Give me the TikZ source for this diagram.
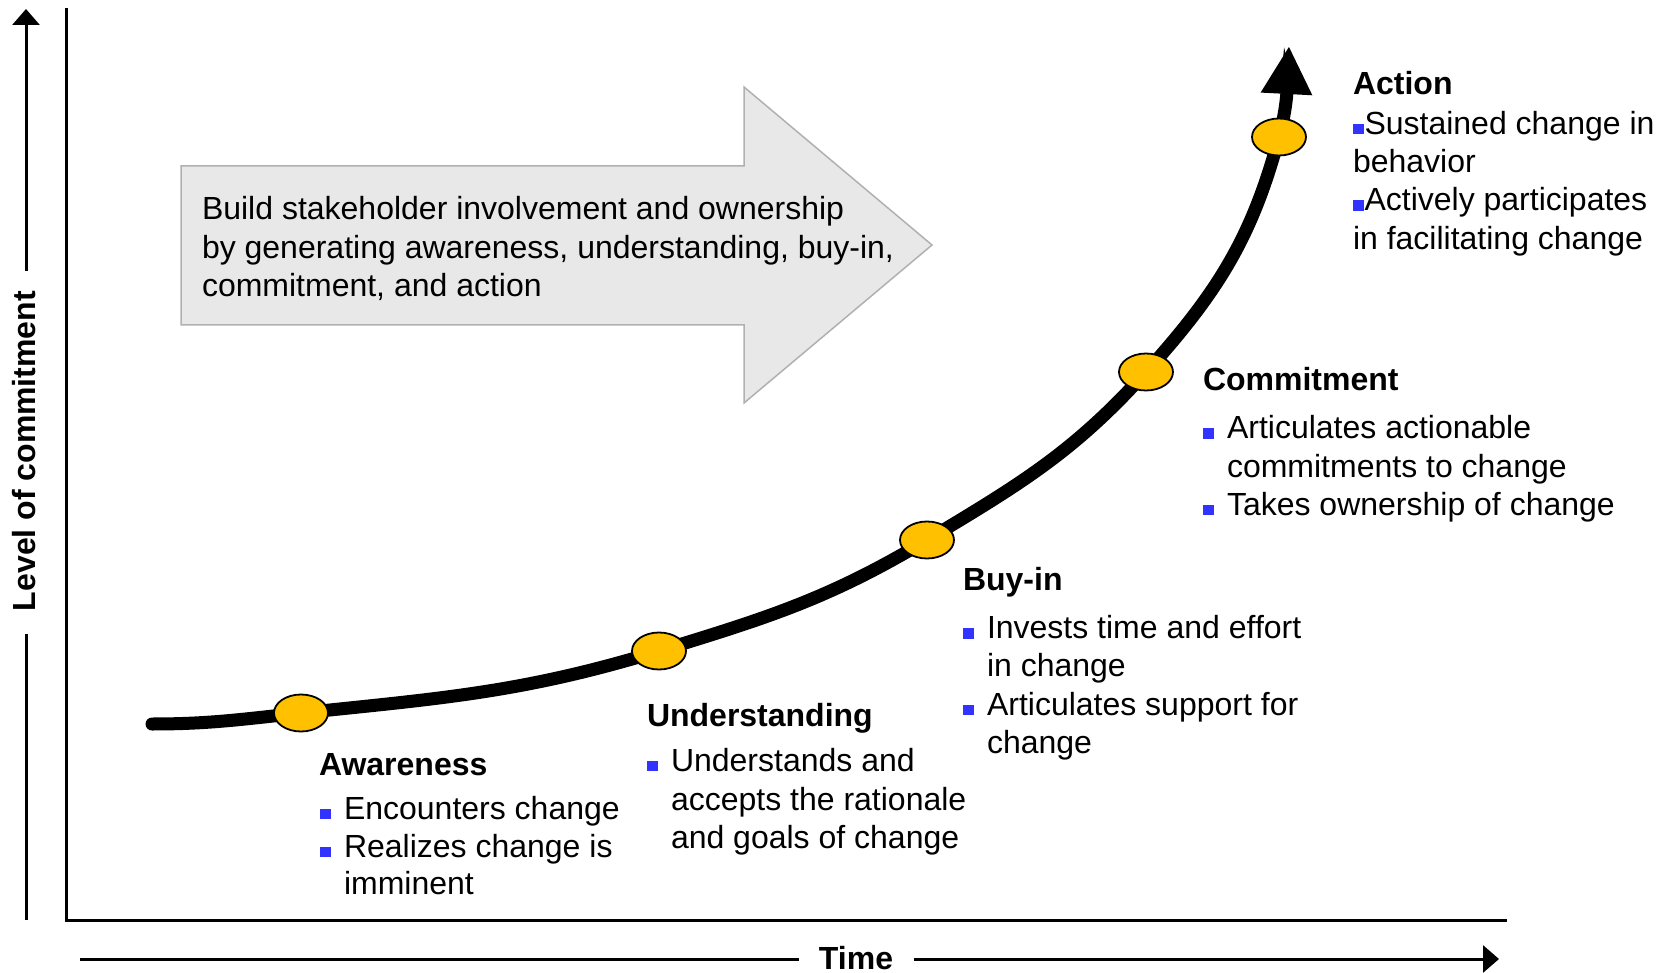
\documentclass[tikz,border=0pt]{standalone}
\usepackage{fontspec}
\setmainfont{Liberation Sans}
\usetikzlibrary{arrows.meta,shapes.geometric}

\definecolor{marker}{HTML}{FFC000}
\definecolor{bulletblue}{HTML}{3333FF}
\definecolor{bannerfill}{HTML}{E8E8E8}
\definecolor{bannerline}{HTML}{B0B0B0}

% small blue square bullet sitting on the baseline
\newcommand{\sqbul}{\textcolor{bulletblue}{\rule{5.25pt}{5.25pt}}}
% bullet followed by a fixed gap before the item text
\newcommand{\itemhang}[1]{\makebox[12pt][l]{\sqbul}#1}
\newcommand{\itemtight}[1]{\makebox[5.75pt][l]{\sqbul}#1}

\begin{document}
\begin{tikzpicture}[x=0.5pt,y=-0.5pt,
  txt/.style={anchor=base west, inner sep=0pt, outer sep=0pt,
              font=\fontsize{16}{19}\selectfont},
  ttl/.style={txt, font=\fontsize{16}{19}\selectfont\bfseries},
  axisline/.style={line width=1.5pt},
  guide/.style={line width=1.5pt, -{Triangle[length=8pt,width=13.5pt]}},
  stage/.style={ellipse, draw=black, line width=0.9pt, fill=marker,
                minimum width=27pt, minimum height=18.5pt, inner sep=0pt},
  trend/.style={line width=6.5pt, line cap=round,
                -{Triangle[length=24pt,width=24pt]}},
  banner/.style={fill=bannerfill, draw=bannerline, line width=0.75pt}
]
\useasboundingbox (0,0) rectangle (1666,973);

% ---- axes -------------------------------------------------------------
\coordinate (ytop)   at (66,8);
\coordinate (origin) at (66,920);
\coordinate (xend)   at (1507,920);
\draw[axisline] (ytop) -- (origin) -- (xend);

% ---- vertical guide with its label --------------------------------------
\node[rotate=90, inner sep=0pt, font=\fontsize{16}{19}\selectfont\bfseries]
  (level) at (24,451) {Level of commitment};
\coordinate (lvlfoot) at (26,920);
\coordinate (lvllow)  at (26,634);
\coordinate (lvlhigh) at (26,271);
\coordinate (lvltip)  at (26,9);
\draw[axisline] (lvlfoot) -- (lvllow);
\draw[guide] (lvlhigh) -- (lvltip);

% ---- horizontal guide with its label ------------------------------------
\node[inner sep=0pt, font=\fontsize{16}{19}\selectfont\bfseries]
  (time) at (856,958) {Time};
\coordinate (tstart) at (80,959);
\coordinate (tleft)  at (799,959);
\coordinate (tright) at (914,959);
\coordinate (tend)   at (1499,959);
\draw[axisline] (tstart) -- (tleft);
\draw[guide] (tright) -- (tend);

% ---- banner arrow -----------------------------------------------------
\draw[banner] (181,166) -- (744,166) -- (744,87) -- (932,245)
  -- (744,403) -- (744,325) -- (181,325) -- cycle;
\node[txt] (ban1) at (202,220) {Build stakeholder involvement and ownership};
\node[txt] (ban2) at (202,258.5) {by generating awareness, understanding, buy-in,};
\node[txt] (ban3) at (202,297) {commitment, and action};

% ---- commitment curve -------------------------------------------------
\coordinate (c0)  at (152,724);
\coordinate (p1)  at (301,713);
\coordinate (p2)  at (659,651);
\coordinate (p3)  at (927,540);
\coordinate (p4)  at (1146,372);
\coordinate (p5)  at (1279,137);
\coordinate (tip) at (1289,46);
\draw[trend] (c0) to[out=0,in=186] (p1) to[out=6,in=197] (p2)
  to[out=17,in=211] (p3) to[out=31,in=228] (p4)
  to[out=48,in=255] (p5) to[out=75,in=267] (tip);

\node[stage] (awareness)     at (p1) {};
\node[stage] (understanding) at (p2) {};
\node[stage] (buyin)         at (p3) {};
\node[stage] (commitment)    at (p4) {};
\node[stage] (action)        at (p5) {};

% ---- stage descriptions -----------------------------------------------
\node[ttl] (awT) at (319,775) {Awareness};
\node[txt] (aw1) at (320,819) {\itemhang{Encounters change}};
\node[txt] (aw2) at (320,857) {\itemhang{Realizes change is}};
\node[txt] (aw3) at (344,894.5) {imminent};

\node[ttl] (unT) at (647,726) {Understanding};
\node[txt] (un1) at (647,771) {\itemhang{Understands and}};
\node[txt] (un2) at (671,810) {accepts the rationale};
\node[txt] (un3) at (671,848.5) {and goals of change};

\node[ttl] (buT) at (963,590) {Buy-in};
\node[txt] (bu1) at (963,638.5) {\itemhang{Invests time and effort}};
\node[txt] (bu2) at (987,676.5) {in change};
\node[txt] (bu3) at (963,715) {\itemhang{Articulates support for}};
\node[txt] (bu4) at (987,753) {change};

\node[ttl] (coT) at (1203,391) {Commitment};
\node[txt] (co1) at (1203,438.5) {\itemhang{Articulates actionable}};
\node[txt] (co2) at (1227,477) {commitments to change};
\node[txt] (co3) at (1203,515) {\itemhang{Takes ownership of change}};

\node[ttl] (acT) at (1353,95) {Action};
\node[txt] (ac1) at (1353,134.5) {\itemtight{Sustained change in}};
\node[txt] (ac2) at (1353,173) {behavior};
\node[txt] (ac3) at (1353,211) {\itemtight{Actively participates}};
\node[txt] (ac4) at (1353,249.5) {in facilitating change};
\end{tikzpicture}
\end{document}
